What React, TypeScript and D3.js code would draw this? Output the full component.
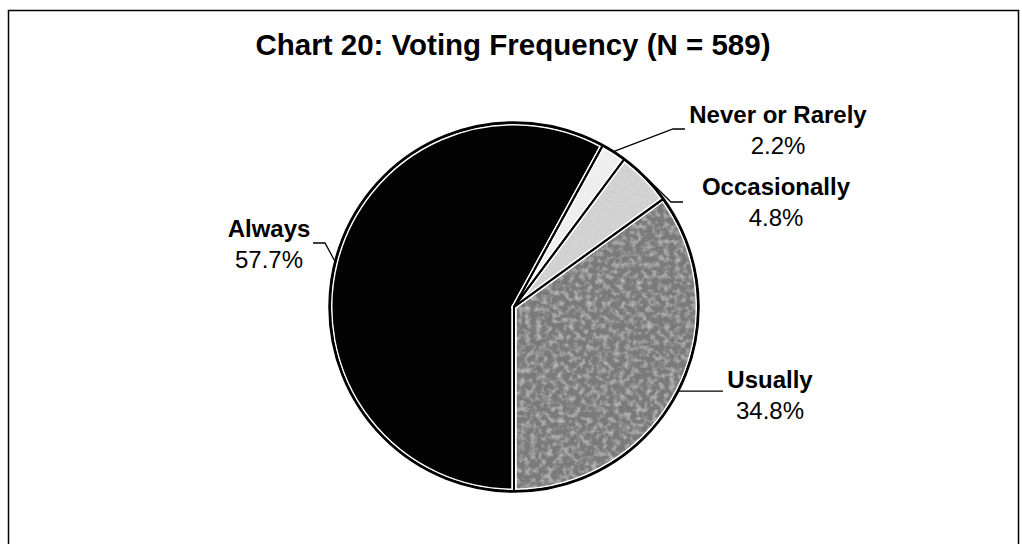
import * as d3 from 'd3'

const categories = ['Always', 'Never or Rarely', 'Occasionally', 'Usually']
const percents = [57.7, 2.2, 4.8, 34.8]
const percentLabels = ['57.7%', '2.2%', '4.8%', '34.8%']
const sliceColors = ['#030303', '#eeeeee', '#cfcfcf', '#7a7a7a']

const W = 1022
const H = 544
const cx = 514
const cy = 307
const radius = 184

// where each label sits (text centre x, baseline of first line) and which side the leader enters
const labelLayout = [
  { x: 269, y: 237, side: 'left', lineY: 243, elbow: true },
  { x: 778, y: 123, side: 'right', lineY: 129, elbow: true },
  { x: 776, y: 195, side: 'right', lineY: 202, elbow: true },
  { x: 770, y: 388, side: 'right', lineY: null, elbow: false },
]

// scan-like grain per slice: [frequency, strength], null = flat
const grain: (number[] | null)[] = [null, [0.7, 0.12], [0.6, 0.2], [0.18, 0.28]]

export default function App() {
  const data = categories.map((c, i) => ({ name: c, value: percents[i], label: percentLabels[i] }))

  const pie = d3
    .pie<any>()
    .sort(null)
    .value((d) => d.value)
    .startAngle(Math.PI)
    .endAngle(Math.PI * 3)

  const arcs = pie(data)
  const arc = d3.arc<any>().innerRadius(0).outerRadius(radius)

  const pointAt = (angle: number, r: number) => [Math.sin(angle) * r, -Math.cos(angle) * r]

  return (
    <svg
      width={W}
      height={H}
      style={{ position: 'absolute', left: 0, top: 0, background: '#fff' }}
      fontFamily="'Liberation Sans', Arial, sans-serif"
    >
      <defs>
        {grain.map((g, i) =>
          g ? (
            <filter key={'g' + i} id={'grain' + i} x="0" y="0" width="1" height="1">
              <feTurbulence type="fractalNoise" baseFrequency={g[0]} numOctaves={2} seed={i + 3} result="n" />
              <feColorMatrix
                in="n"
                type="matrix"
                values={`0 0 0 0 1  0 0 0 0 1  0 0 0 0 1  ${g[1] * 3} 0 0 0 ${-g[1] * 1.3}`}
                result="w"
              />
              <feComposite in="w" in2="SourceGraphic" operator="in" result="wc" />
              <feMerge>
                <feMergeNode in="SourceGraphic" />
                <feMergeNode in="wc" />
              </feMerge>
            </filter>
          ) : null
        )}
      </defs>

      <rect x={8.5} y={10.5} width={1010} height={600} fill="none" stroke="#000" strokeWidth={1.5} />
      <text x={513} y={55} textAnchor="middle" fontSize={29.5} fontWeight="bold" fill="#000">
        Chart 20: Voting Frequency (N = 589)
      </text>

      <g transform={`translate(${cx},${cy})`}>
        {arcs.map((a, i) => (
          <path
            key={'f' + i}
            d={arc(a) as string}
            fill={sliceColors[i]}
            filter={grain[i] ? `url(#grain${i})` : undefined}
          />
        ))}
        {arcs.map((a, i) => (
          <path key={'w' + i} d={arc(a) as string} fill="none" stroke="#fff" strokeWidth={5} strokeLinejoin="round" />
        ))}
        {arcs.map((a, i) => (
          <path key={'b' + i} d={arc(a) as string} fill="none" stroke="#000" strokeWidth={2} strokeLinejoin="round" />
        ))}
        <circle r={radius + 0.5} fill="none" stroke="#000" strokeWidth={2.5} />
      </g>

      {arcs.map((a, i) => {
        const lay = labelLayout[i]
        const mid = (a.startAngle + a.endAngle) / 2
        const [sx, sy] = pointAt(mid, radius + 1)
        const x0 = cx + sx
        const y0 = cy + sy
        let pts: [number, number][]
        if (lay.elbow) {
          const endX = lay.side === 'left' ? lay.x + 44 : lay.x - 93
          const elbowX = lay.side === 'left' ? endX + 12 : endX - 12
          pts = [
            [x0, y0],
            [elbowX, lay.lineY as number],
            [endX, lay.lineY as number],
          ]
        } else {
          pts = [
            [x0, y0],
            [lay.x - 47, y0],
          ]
        }
        return (
          <polyline
            key={'l' + i}
            points={pts.map((p) => p.join(',')).join(' ')}
            fill="none"
            stroke="#000"
            strokeWidth={1.3}
          />
        )
      })}

      {data.map((d, i) => {
        const lay = labelLayout[i]
        return (
          <text key={'t' + i} x={lay.x} y={lay.y} textAnchor="middle" fontSize={24} fill="#000">
            <tspan fontWeight="bold">{d.name}</tspan>
            <tspan x={lay.x} dy={31}>
              {d.label}
            </tspan>
          </text>
        )
      })}
    </svg>
  )
}
